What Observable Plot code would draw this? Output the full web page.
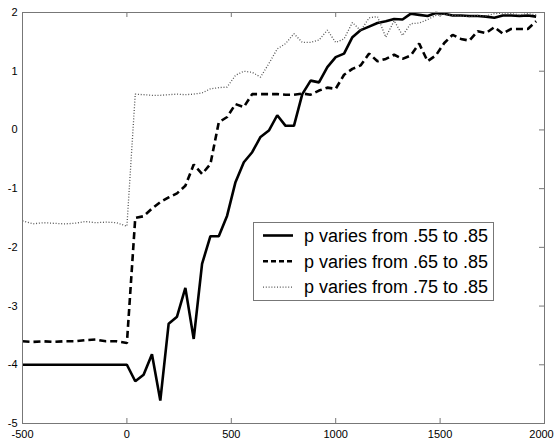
<!DOCTYPE html>
<html><head><meta charset="utf-8">
<script src="https://cdn.jsdelivr.net/npm/d3@7"></script>
<script src="https://cdn.jsdelivr.net/npm/@observablehq/plot@0.6"></script>
<style>
body{margin:0;background:#fff;}
#wrap{position:relative;width:554px;height:441px;font-family:"Liberation Sans",Arial,Helvetica,sans-serif;}
#legend{position:absolute;left:253px;top:222px;}
</style>
</head><body>
<div id="wrap"><div id="chart"></div><div id="legend"></div></div>
<script>
const xValues = [-500,-450,-400,-350,-300,-250,-200,-150,-100,-50,
  0,40,80,120,160,200,240,280,320,360,400,440,480,520,560,600,640,680,720,760,
  800,840,880,920,960,1000,1040,1080,1120,1160,1200,1240,1280,1320,1360,1400,1440,1480,1520,1560,
  1600,1640,1680,1720,1760,1800,1840,1880,1920,1960];

const series55 = [-4,-4,-4,-4,-4,-4,-4,-4,-4,-4,
  -4.00,-4.28,-4.17,-3.82,-4.61,-3.30,-3.18,-2.69,-3.56,-2.28,
  -1.81,-1.81,-1.46,-0.89,-0.55,-0.38,-0.12,-0.01,0.25,0.07,
  0.07,0.61,0.84,0.81,1.07,1.24,1.30,1.58,1.70,1.76,
  1.82,1.85,1.89,1.88,1.98,1.96,1.94,1.99,1.98,1.95,
  1.95,1.94,1.94,1.93,1.91,1.95,1.95,1.94,1.95,1.93];

const series65 = [-3.60,-3.61,-3.60,-3.61,-3.60,-3.60,-3.58,-3.57,-3.60,-3.60,
  -3.63,-1.50,-1.47,-1.34,-1.23,-1.15,-1.08,-0.95,-0.59,-0.75,
  -0.58,0.13,0.22,0.44,0.39,0.61,0.61,0.61,0.61,0.60,
  0.60,0.62,0.60,0.67,0.72,0.70,0.94,1.04,1.10,1.30,
  1.17,1.21,1.28,1.21,1.27,1.47,1.17,1.27,1.48,1.62,
  1.55,1.52,1.68,1.65,1.75,1.64,1.72,1.72,1.72,1.85];

const series75 = [-1.55,-1.60,-1.58,-1.59,-1.60,-1.59,-1.56,-1.58,-1.57,-1.58,
  -1.64,0.61,0.60,0.59,0.59,0.60,0.61,0.60,0.61,0.63,
  0.70,0.72,0.73,0.93,1.00,0.98,0.90,1.13,1.38,1.47,
  1.64,1.49,1.49,1.53,1.70,1.49,1.55,1.83,1.69,1.91,
  1.93,1.58,1.86,1.61,1.81,1.82,1.88,1.95,1.97,1.95,
  1.94,1.93,1.95,1.94,1.98,1.99,1.98,1.96,1.98,1.96];

const seriesLabels = ["p varies from .55 to .85","p varies from .65 to .85","p varies from .75 to .85"];
const xTicks = [-500,0,500,1000,1500,2000];
const yTicks = [-5,-4,-3,-2,-1,0,1,2];

const toRows = ys => xValues.map((x,i)=>({x, y: ys[i]}));
const styles = [
  {stroke:"#000", strokeWidth:2.6, dash:null},
  {stroke:"#000", strokeWidth:2.6, dash:"7,4"},
  {stroke:"#555", strokeWidth:1.3, dash:"1,1.8"}
];
const allSeries = [series55, series65, series75];

const W = 554, H = 441, mL = 22, mR = 10, mT = 12, mB = 18;
const innerW = W - mL - mR, innerH = H - mT - mB;
const font = '"Liberation Sans", Arial, Helvetica, sans-serif';

const chart = Plot.plot({
  width: W, height: H,
  marginLeft: mL, marginRight: mR, marginTop: mT, marginBottom: mB,
  x: {domain: [-500, 2000], label: null},
  y: {domain: [-5, 2], label: null},
  style: {fontFamily: font, fontSize: "11px", color: "#000", background: "#fff"},
  marks: [
    Plot.axisX(xTicks.slice(0, -1), {tickSize: 0, tickPadding: 7, tickFormat: d => String(d), fill: "#000", label: null}),
    Plot.axisX(xTicks.slice(-1), {tickSize: 0, tickPadding: 7, tickFormat: d => String(d), fill: "#000", label: null, dx: -3}),
    Plot.axisY(yTicks, {tickSize: 0, tickPadding: 5, tickFormat: d => String(d), fill: "#000", label: null}),
    Plot.tickX(xTicks.slice(1, -1), {x: d => d, insetBottom: innerH - 5, stroke: "#777"}),
    Plot.tickX(xTicks.slice(1, -1), {x: d => d, insetTop: innerH - 5, stroke: "#777"}),
    Plot.tickY(yTicks.slice(1, -1), {y: d => d, insetLeft: innerW - 5, stroke: "#777"}),
    ...allSeries.map((s, i) => Plot.line(toRows(s), {
      x: "x", y: "y", stroke: styles[i].stroke, strokeWidth: styles[i].strokeWidth,
      strokeDasharray: styles[i].dash, strokeLinejoin: "miter", strokeLinecap: "butt"
    })),
    Plot.frame({stroke: "#777"})
  ]
});
document.getElementById("chart").appendChild(chart);

// legend
const lw = 240, lh = 78;
const leg = d3.select("#legend").append("svg").attr("width", lw + 1).attr("height", lh + 1);
leg.append("rect").attr("x", 0.5).attr("y", 0.5).attr("width", lw).attr("height", lh)
  .attr("fill", "#fff").attr("stroke", "#777");
seriesLabels.forEach((lab, i) => {
  const cy = 13.5 + i * 25.8;
  const ln = leg.append("line").attr("x1", 10).attr("x2", 40).attr("y1", cy).attr("y2", cy)
    .attr("stroke", styles[i].stroke).attr("stroke-width", styles[i].strokeWidth);
  if (styles[i].dash) ln.attr("stroke-dasharray", i === 1 ? "5,3" : styles[i].dash);
  leg.append("text").attr("x", 51).attr("y", cy).attr("dy", "0.35em")
    .attr("font-family", font)
    .attr("font-size", "18px").attr("fill", "#000").text(lab);
});
</script>
</body></html>
